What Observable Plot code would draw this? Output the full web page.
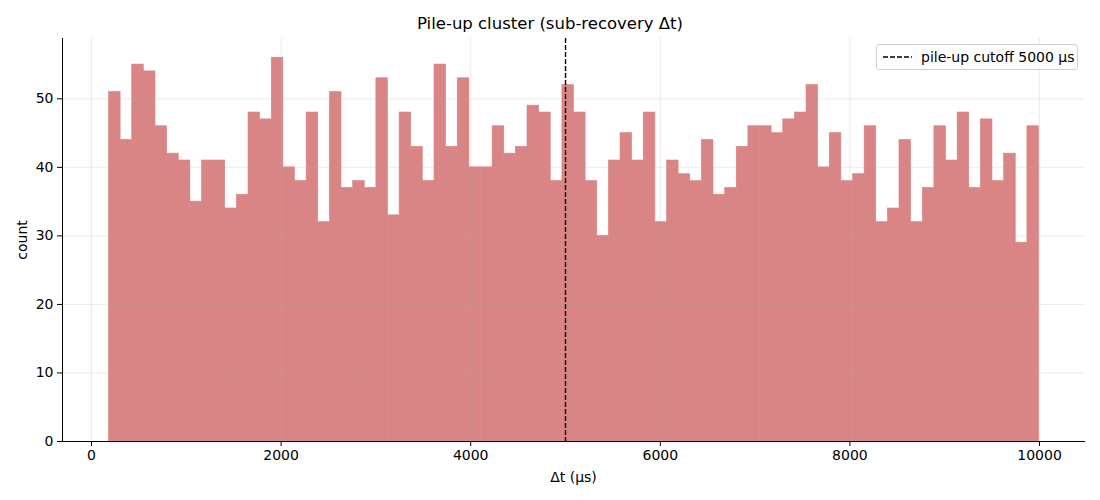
<!DOCTYPE html>
<html>
<head>
<meta charset="utf-8">
<script src="https://cdn.jsdelivr.net/npm/d3@7"></script>
<script src="https://cdn.jsdelivr.net/npm/@observablehq/plot@0.6"></script>
<style>
  html, body { margin: 0; padding: 0; background: #fff; }
  #wrap { position: relative; width: 1100px; height: 500px; font-family: "DejaVu Sans", sans-serif; color: #000; }
  #title { position: absolute; left: 0; width: 1100px; top: 14px; text-align: center; font-size: 16.5px; }
  #xlabel { position: absolute; left: 62px; width: 1023px; top: 469px; text-align: center; font-size: 14px; }
  #ylabel { position: absolute; left: 22px; top: 240px; font-size: 14px; transform: translate(-50%, -50%) rotate(-90deg); white-space: nowrap; }
  #legend { position: absolute; left: 876px; top: 44px; width: 200px; height: 24px; border: 1px solid #d0d0d0; border-radius: 3px; background: rgba(255,255,255,0.85); font-size: 14px; display: flex; align-items: center; }
  #legend svg { margin-left: 6px; margin-right: 9px; }
</style>
</head>
<body>
<div id="wrap">
  <div id="chart"></div>
  <div id="title">Pile-up cluster (sub-recovery Δt)</div>
  <div id="xlabel">Δt (µs)</div>
  <div id="ylabel">count</div>
  <div id="legend"><svg width="29" height="4"><line x1="0" y1="2" x2="29" y2="2" stroke="#000" stroke-width="1.4" stroke-dasharray="5,2"></line></svg><span>pile-up cutoff 5000 µs</span></div>
</div>
<script>
// Histogram counts (80 bins)
const counts = [
  51, 44, 55, 54, 46, 42, 41, 35, 41, 41,
  34, 36, 48, 47, 56, 40, 38, 48, 32, 51,
  37, 38, 37, 53, 33, 48, 43, 38, 55, 43,
  53, 40, 40, 46, 42, 43, 49, 48, 38, 52,
  48, 38, 30, 41, 45, 41, 48, 32, 41, 39,
  38, 44, 36, 37, 43, 46, 46, 45, 47, 48,
  52, 40, 45, 38, 39, 46, 32, 34, 44, 32,
  37, 46, 41, 48, 37, 47, 38, 42, 29, 46
];
const binStart = 184.5;
const binEnd = 9994.5;
const cutoff = 5000;
const xTicks = [0, 2000, 4000, 6000, 8000, 10000];
const yTicks = [0, 10, 20, 30, 40, 50];
const xDomain = [-306, 10485];
const yDomain = [0, 58.8];

const binW = (binEnd - binStart) / counts.length;
const bins = counts.map((c, i) => ({ x1: binStart + i * binW, x2: binStart + (i + 1) * binW, count: c }));

const barColor = "#d98585";
const chart = Plot.plot({
  width: 1100,
  height: 500,
  marginLeft: 62,
  marginRight: 15,
  marginTop: 38,
  marginBottom: 59,
  style: { fontFamily: "DejaVu Sans, sans-serif", fontSize: "14px", background: "#fff", color: "#000" },
  x: { domain: xDomain, ticks: xTicks },
  y: { domain: yDomain, ticks: yTicks },
  marks: [
    Plot.rectY(bins, { x1: "x1", x2: "x2", y: "count", fill: barColor, stroke: barColor, strokeWidth: 0.6, inset: 0 }),
    Plot.gridX(xTicks, { stroke: "#b0b0b0", strokeOpacity: 0.3, strokeWidth: 0.8 }),
    Plot.gridY(yTicks, { stroke: "#b0b0b0", strokeOpacity: 0.3, strokeWidth: 0.8 }),
    Plot.ruleX([cutoff], { stroke: "#000", strokeWidth: 1.4, strokeDasharray: "5,2" }),
    Plot.ruleX([xDomain[0]], { stroke: "#000", strokeWidth: 1 }),
    Plot.ruleY([0], { stroke: "#000", strokeWidth: 1 }),
    Plot.axisX(xTicks, { tickSize: 5, tickPadding: 4, fontSize: 14, label: null, tickFormat: d3.format("d") }),
    Plot.axisY(yTicks, { tickSize: 5, tickPadding: 4, fontSize: 14, label: null, tickFormat: d3.format("d") })
  ]
});
document.getElementById("chart").appendChild(chart);
</script>
</body>
</html>
